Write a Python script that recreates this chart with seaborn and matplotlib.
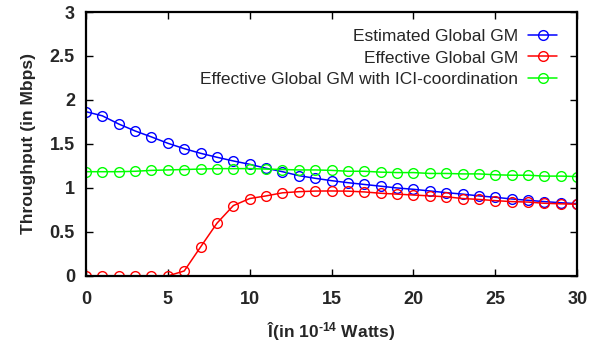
import matplotlib
matplotlib.use("Agg")
import matplotlib.pyplot as plt
import seaborn as sns
import pandas as pd

# Transmit power axis (in 1e-14 W)
power = list(range(31))

estimated_global_gm = [1.867, 1.82, 1.727, 1.648, 1.58, 1.508, 1.447, 1.394, 1.349, 1.307,
                       1.269, 1.224, 1.185, 1.14, 1.11, 1.083, 1.06, 1.04, 1.02, 1.00,
                       0.985, 0.966, 0.947, 0.93, 0.91, 0.894, 0.875, 0.86, 0.845, 0.832, 0.822]
effective_global_gm = [0.0, 0.0, 0.0, 0.0, 0.0, 0.0, 0.057, 0.33, 0.60, 0.80,
                       0.88, 0.91, 0.945, 0.958, 0.965, 0.966, 0.964, 0.955, 0.94, 0.93,
                       0.92, 0.91, 0.90, 0.88, 0.87, 0.856, 0.845, 0.84, 0.826, 0.82, 0.815]
effective_global_gm_ici = [1.185, 1.185, 1.185, 1.19, 1.20, 1.205, 1.21, 1.215, 1.22, 1.22,
                           1.22, 1.215, 1.21, 1.205, 1.205, 1.20, 1.19, 1.19, 1.18, 1.175,
                           1.175, 1.165, 1.165, 1.16, 1.16, 1.15, 1.145, 1.145, 1.135, 1.135, 1.13]

series_names = ["Estimated Global GM", "Effective Global GM",
                "Effective Global GM with ICI-coordination"]
series_colors = ["#0000ff", "#ff0000", "#00ff00"]

x_ticks = [0, 5, 10, 15, 20, 25, 30]
y_ticks = [0, 0.5, 1, 1.5, 2, 2.5, 3]
y_tick_labels = ["0", "0.5", "1", "1.5", "2", "2.5", "3"]

df = pd.concat([
    pd.DataFrame({"power": power, "throughput": vals, "series": name})
    for name, vals in zip(series_names,
                          [estimated_global_gm, effective_global_gm, effective_global_gm_ici])
], ignore_index=True)

sns.set_theme(style="white")
plt.rcParams["font.family"] = ["Liberation Sans", "DejaVu Sans"]
plt.rcParams["mathtext.fontset"] = "custom"
plt.rcParams["mathtext.rm"] = "Liberation Sans:bold"
plt.rcParams["mathtext.it"] = "Liberation Sans:bold"
plt.rcParams["mathtext.bf"] = "Liberation Sans:bold"

fig = plt.figure(figsize=(5.89, 3.48), dpi=100)
ax = fig.add_axes([0.146, 0.207, 0.834, 0.7585])

sns.lineplot(data=df, x="power", y="throughput", hue="series",
             hue_order=series_names, palette=series_colors,
             marker="o", markersize=7, markerfacecolor="none",
             markeredgewidth=1.0, linewidth=1.1, dashes=False, ax=ax)

for line, c in zip(ax.lines, series_colors):
    line.set_markeredgecolor(c)
    line.set_markerfacecolor("none")

ax.set_xlim(0, 30)
ax.set_ylim(0, 3)
ax.set_xticks(x_ticks)
ax.set_yticks(y_ticks)
ax.set_yticklabels(y_tick_labels)
for lbl in ax.get_xticklabels() + ax.get_yticklabels():
    lbl.set_fontweight("bold")
    lbl.set_fontsize(13)

ax.tick_params(direction="in", length=5, width=1.0, top=True, right=True,
               bottom=True, left=True, color="black")
ax.tick_params(axis="x", pad=11)
ax.tick_params(axis="y", pad=8)
for sp in ax.spines.values():
    sp.set_color("black")
    sp.set_linewidth(1.6)

ax.set_xlabel("Î(in 10$^{\u201014}$ Watts)", fontsize=12.5, fontweight="bold", labelpad=9)
ax.set_ylabel("Throughput (in Mbps)", fontsize=12.5, fontweight="bold", labelpad=10)

handles, labels = ax.get_legend_handles_labels()
for h, c in zip(handles, series_colors):
    h.set_markerfacecolor("none")
    h.set_markeredgecolor(c)
ax.legend(handles, labels, loc="upper right", frameon=False, markerfirst=False,
          fontsize=12.5, handlelength=1.65, handletextpad=0.6, labelspacing=0.38,
          borderpad=0, borderaxespad=0, bbox_to_anchor=(0.959, 0.937))

fig.savefig("out.png", dpi=100)
